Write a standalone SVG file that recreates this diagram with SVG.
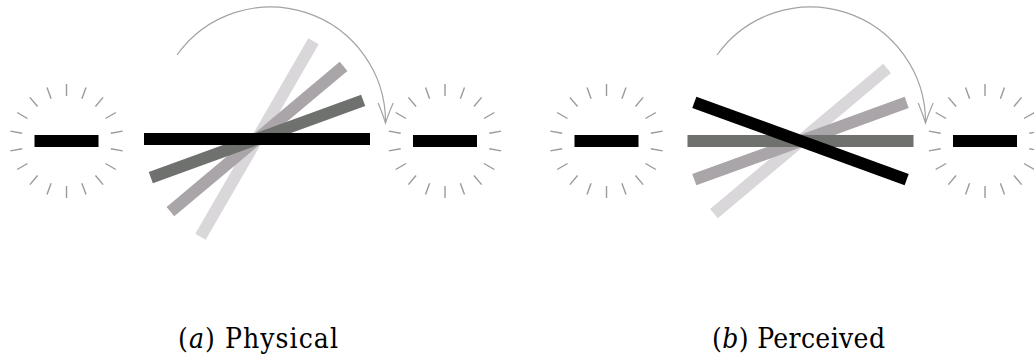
<svg xmlns="http://www.w3.org/2000/svg" xmlns:xlink="http://www.w3.org/1999/xlink" width="1034" height="357" viewBox="0 0 1034 357">
  <style>
    .tick { stroke: #9a9a9a; stroke-width: 1.4; fill: none; }
    .fbar { fill: #000; }
    .bar0 { fill: #000; }
    .bar1 { fill: #6f716e; }
    .bar2 { fill: #a9a5a8; }
    .bar3 { fill: #d9d7da; }
    .arc { stroke: #a3a3a3; stroke-width: 1.2; fill: none; }
  </style>
  <defs>
    <g id="ticks" class="tick">
      <line x1="0" y1="-45" x2="0" y2="-57"/>
      <line x1="15.39" y1="-42.29" x2="19.49" y2="-53.56"/>
      <line x1="28.93" y1="-34.47" x2="36.64" y2="-43.66"/>
      <line x1="38.97" y1="-22.5" x2="49.36" y2="-28.5"/>
      <line x1="44.32" y1="-7.81" x2="56.13" y2="-9.9"/>
      <line x1="44.32" y1="7.81" x2="56.13" y2="9.9"/>
      <line x1="38.97" y1="22.5" x2="49.36" y2="28.5"/>
      <line x1="28.93" y1="34.47" x2="36.64" y2="43.66"/>
      <line x1="15.39" y1="42.29" x2="19.49" y2="53.56"/>
      <line x1="0" y1="45" x2="0" y2="57"/>
      <line x1="-15.39" y1="42.29" x2="-19.49" y2="53.56"/>
      <line x1="-28.93" y1="34.47" x2="-36.64" y2="43.66"/>
      <line x1="-38.97" y1="22.5" x2="-49.36" y2="28.5"/>
      <line x1="-44.32" y1="7.81" x2="-56.13" y2="9.9"/>
      <line x1="-44.32" y1="-7.81" x2="-56.13" y2="-9.9"/>
      <line x1="-38.97" y1="-22.5" x2="-49.36" y2="-28.5"/>
      <line x1="-28.93" y1="-34.47" x2="-36.64" y2="-43.66"/>
      <line x1="-15.39" y1="-42.29" x2="-19.49" y2="-53.56"/>
    </g>
    <rect id="fbar" class="fbar" x="-32" y="-6" width="64" height="12"/>
    <marker id="arrow" markerUnits="userSpaceOnUse" markerWidth="30" markerHeight="30" viewBox="-25 -15 30 30" refX="0" refY="0" orient="auto" overflow="visible">
      <path d="M-20,-7.5 Q-8,-2.5 0,0 Q-8,2.5 -20,7.5" fill="none" stroke="#a3a3a3" stroke-width="1.2"/>
    </marker>
  </defs>

  <g id="flash-a-left" transform="translate(66.5,141)">
    <use xlink:href="#ticks"/>
    <use xlink:href="#fbar"/>
  </g>
  <g id="flash-a-right" transform="translate(445,141)">
    <use xlink:href="#ticks"/>
    <use xlink:href="#fbar"/>
  </g>
  <g id="rotor-a" transform="translate(257,139)">
    <rect class="bar3" x="-113" y="-6" width="226" height="12" transform="rotate(-60)"/>
    <rect class="bar2" x="-113" y="-6" width="226" height="12" transform="rotate(-40)"/>
    <rect class="bar1" x="-113" y="-6" width="226" height="12" transform="rotate(-20)"/>
    <rect class="bar0" x="-113" y="-6" width="226" height="12"/>
  </g>

  <g id="flash-b-left" transform="translate(606.5,141)">
    <use xlink:href="#ticks"/>
    <use xlink:href="#fbar"/>
  </g>
  <g id="flash-b-right" transform="translate(985,141)">
    <use xlink:href="#ticks"/>
    <use xlink:href="#fbar"/>
  </g>
  <g id="rotor-b" transform="translate(800.5,141)">
    <rect class="bar3" x="-113" y="-6" width="226" height="12" transform="rotate(-40)"/>
    <rect class="bar2" x="-113" y="-6" width="226" height="12" transform="rotate(-20)"/>
    <rect class="bar1" x="-113" y="-6" width="226" height="12"/>
    <rect class="bar0" x="-113" y="-6" width="226" height="12" transform="rotate(20)"/>
  </g>

  <g id="connectors">
    <path class="arc" d="M177,55 A115,115 0 0 1 385.5,123" marker-end="url(#arrow)"/>
    <path class="arc" d="M717,55 A115,115 0 0 1 925.5,123" marker-end="url(#arrow)"/>
  </g>

  <g id="labels" font-size="28" fill="#000" font-family="'DejaVu Serif Condensed', 'DejaVu Serif', serif">
    <text x="178" y="348" textLength="160" lengthAdjust="spacing">(<tspan font-style="italic">a</tspan>) Physical</text>
    <text x="712" y="348" textLength="173" lengthAdjust="spacing">(<tspan font-style="italic">b</tspan>) Perceived</text>
  </g>
</svg>
